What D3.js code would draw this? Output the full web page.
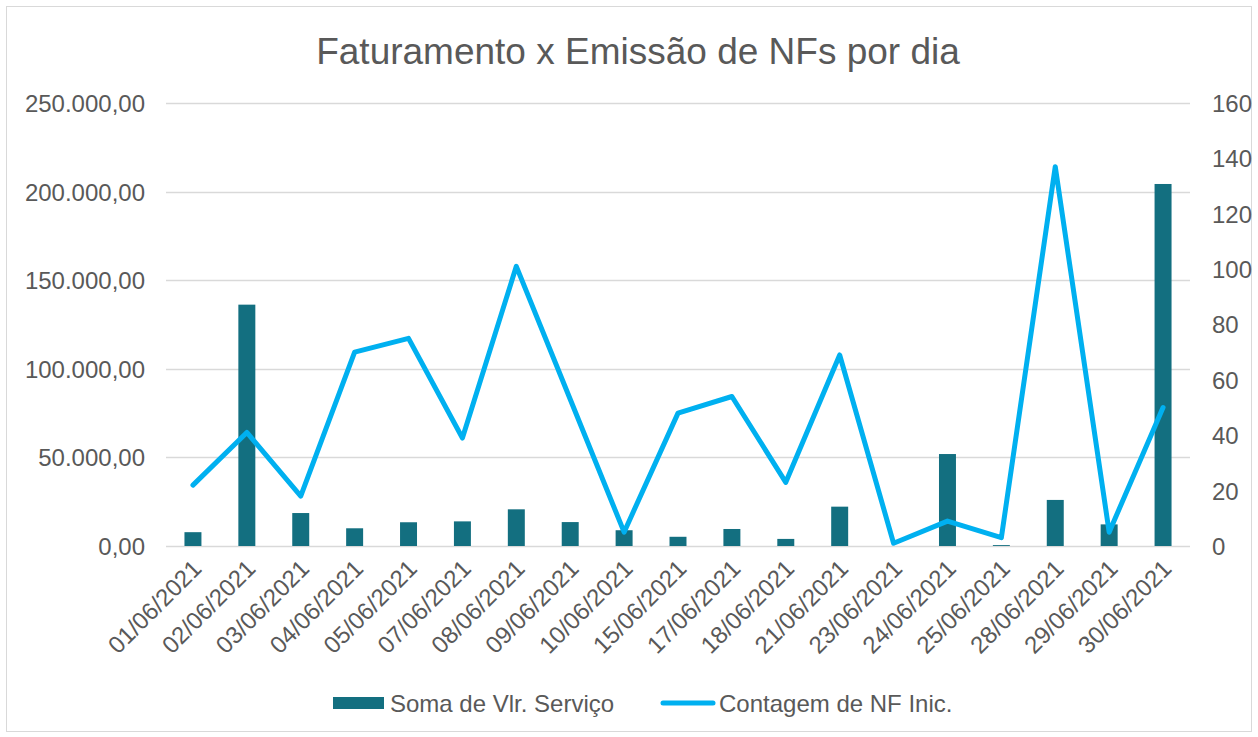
<!DOCTYPE html>
<html>
<head>
<meta charset="utf-8">
<script src="https://cdn.jsdelivr.net/npm/d3@7"></script>
<style>
  body { margin: 0; background: #fff; }
  text { font-family: "Liberation Sans", Arial, sans-serif; fill: #595959; }
</style>
</head>
<body>
<div id="chart"></div>
<script>
var dias = ["01/06/2021","02/06/2021","03/06/2021","04/06/2021","05/06/2021","07/06/2021",
  "08/06/2021","09/06/2021","10/06/2021","15/06/2021","17/06/2021","18/06/2021","21/06/2021",
  "23/06/2021","24/06/2021","25/06/2021","28/06/2021","29/06/2021","30/06/2021"];
var valorServico = [7800, 136200, 18600, 10000, 13400, 13900, 20700, 13500, 8900,
  5200, 9600, 4000, 22200, 0, 51900, 500, 26000, 12200, 204300];
var contagemNF = [22, 41, 18, 70, 75, 39, 101, 53, 5, 48, 54, 23, 69, 1, 9, 3, 137, 5, 50];
var ticksEsq = [0, 50000, 100000, 150000, 200000, 250000];
var ticksDir = [0, 20, 40, 60, 80, 100, 120, 140, 160];

var W = 1258, H = 737;
var m = {t:103, r:68, b:191, l:166};
var w = W - m.l - m.r, h = H - m.t - m.b;

var ptBR = d3.formatLocale({decimal: ",", thousands: ".", grouping: [3], currency: ["R$", ""]});
var fmt = ptBR.format(",.2f");

var svg = d3.select("#chart").append("svg")
  .attr("width", W).attr("height", H);

// moldura
svg.append("rect")
  .attr("x", 6.5).attr("y", 6.5)
  .attr("width", W - 13).attr("height", H - 12)
  .attr("fill", "#fff").attr("stroke", "#D9D9D9");

svg.append("text")
  .attr("x", 638).attr("y", 64)
  .attr("text-anchor", "middle")
  .attr("font-size", "37px")
  .text("Faturamento x Emissão de NFs por dia");

var g = svg.append("g").attr("transform", "translate(" + m.l + "," + m.t + ")");

var x = d3.scaleBand().domain(dias).range([0, w]).paddingInner(0.685).paddingOuter(0.3425);
var yL = d3.scaleLinear().domain([0, 250000]).range([h, 0]);
var yR = d3.scaleLinear().domain([0, 160]).range([h, 0]);

// grade
g.selectAll(".grid").data(ticksEsq).enter().append("line")
  .attr("class", "grid")
  .attr("x1", 0).attr("x2", w)
  .attr("y1", function(d){ return Math.round(yL(d)) + 0.5; })
  .attr("y2", function(d){ return Math.round(yL(d)) + 0.5; })
  .attr("stroke", "#D9D9D9").attr("stroke-width", 1.5);

// eixo esquerdo
var axL = g.append("g").attr("transform", "translate(-21,0)")
  .call(d3.axisLeft(yL).tickValues(ticksEsq).tickFormat(fmt).tickSize(0).tickPadding(0));
axL.select(".domain").remove();
axL.selectAll("text").attr("font-size", "24px").attr("dy", "0.35em")
  .attr("font-family", "Liberation Sans, Arial, sans-serif").attr("fill", "#595959");

// eixo direito
var axR = g.append("g").attr("transform", "translate(" + (w + 22) + ",0)")
  .call(d3.axisRight(yR).tickValues(ticksDir).tickSize(0).tickPadding(0));
axR.select(".domain").remove();
axR.selectAll("text").attr("font-size", "24px").attr("dy", "0.35em")
  .attr("font-family", "Liberation Sans, Arial, sans-serif").attr("fill", "#595959");

// rótulos de data
var axX = g.append("g").attr("transform", "translate(0," + h + ")")
  .call(d3.axisBottom(x).tickSize(0).tickPadding(0));
axX.select(".domain").remove();
axX.selectAll("text")
  .attr("font-size", "24px")
  .attr("font-family", "Liberation Sans, Arial, sans-serif").attr("fill", "#595959")
  .attr("text-anchor", "end")
  .attr("dy", "0")
  .attr("transform", "translate(10,24) rotate(-45)");

// barras
g.selectAll(".bar").data(valorServico).enter().append("rect")
  .attr("class", "bar")
  .attr("x", function(d, i){ return x(dias[i]); })
  .attr("width", x.bandwidth())
  .attr("y", function(d){ return yL(d); })
  .attr("height", function(d){ return h - yL(d); })
  .attr("fill", "#136F80");

// linha
var line = d3.line()
  .x(function(d, i){ return x(dias[i]) + x.bandwidth() / 2; })
  .y(function(d){ return yR(d); });

g.append("path")
  .datum(contagemNF)
  .attr("d", line)
  .attr("fill", "none")
  .attr("stroke", "#00B0F0")
  .attr("stroke-width", 5)
  .attr("stroke-linejoin", "round")
  .attr("stroke-linecap", "round");

// legenda
var leg = svg.append("g");
leg.append("rect").attr("x", 333).attr("y", 697).attr("width", 51).attr("height", 12).attr("fill", "#136F80");
leg.append("text").attr("x", 390).attr("y", 712).attr("font-size", "24px").text("Soma de Vlr. Serviço");
leg.append("line").attr("x1", 663).attr("x2", 713).attr("y1", 703).attr("y2", 703)
  .attr("stroke", "#00B0F0").attr("stroke-width", 5).attr("stroke-linecap", "round");
leg.append("text").attr("x", 719).attr("y", 712).attr("font-size", "24px").text("Contagem de NF Inic.");
</script>
</body>
</html>
